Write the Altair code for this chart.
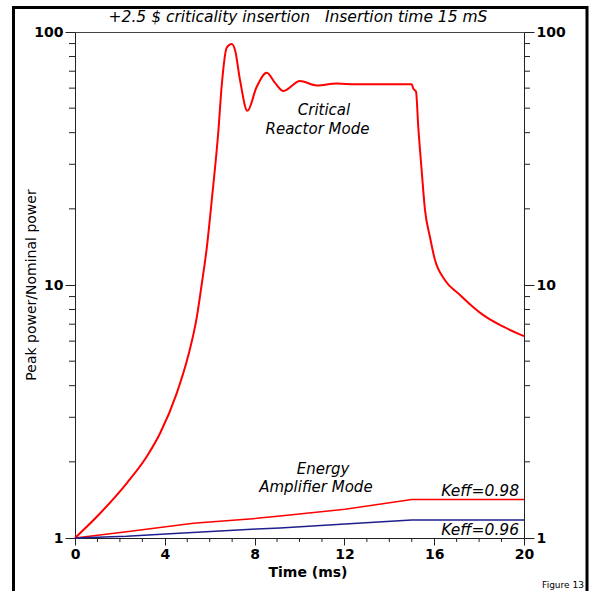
import altair as alt
import pandas as pd

# Critical reactor mode: power excursion after a +2.5 $ insertion
crit_t = [0, 1.11, 2.3, 3.19, 3.79, 4.53, 5.03, 5.43, 5.64, 5.86, 6.1, 6.39, 6.53,
          6.76, 6.98, 7.13, 7.35, 7.68, 8.09, 8.54, 8.91, 9.28, 10.02, 10.77, 11.66,
          12.5, 14.0, 15.0, 15.07, 15.19, 15.29, 15.44, 15.59, 15.81, 16.03, 16.48,
          17.15, 17.59, 18.19, 19.08, 20]
crit_p = [1, 1.25, 1.645, 2.095, 2.595, 3.73, 5.2, 7.5, 10.0, 13.8, 22, 41, 60.6,
          86.7, 89.6, 84.7, 64.6, 48.8, 60.6, 69, 62.9, 58.5, 64, 61.5, 62.6,
          62.1, 62.1, 62.1, 59.7, 58.1, 42.2, 28.5, 19.8, 15.5, 12.6, 10.45,
          9.13, 8.4, 7.6, 6.84, 6.28]

# Energy amplifier mode, Keff = 0.98
k98_t = [0, 2.3, 5.27, 8.09, 9.13, 12.03, 15.0, 20]
k98_p = [1, 1.059, 1.143, 1.196, 1.222, 1.30, 1.42, 1.42]

# Energy amplifier mode, Keff = 0.96
k96_t = [0, 2.3, 4.23, 8.09, 9.13, 12.03, 15.0, 20]
k96_p = [1, 1.015, 1.04, 1.085, 1.095, 1.136, 1.178, 1.178]

# Annotations inside the plot (text, time, power)
note_text = ["Critical", "Reactor Mode", "Energy", "Amplifier Mode"]
note_t = [11.09, 10.80, 11.05, 10.73]
note_p = [47.0, 39.7, 1.79, 1.524]

keff_text = ["Keff=0.98", "Keff=0.96"]
keff_t = [19.78, 19.78]
keff_p = [1.466, 1.028]

y_major = [1, 10, 100]
y_minor = [2, 3, 4, 5, 6, 7, 8, 9, 20, 30, 40, 50, 60, 70, 80, 90]
x_major = [0, 4, 8, 12, 16, 20]
x_minor = [t for t in range(0, 21) if t % 4]

FONT = "DejaVu Sans"
AXIS_COLOR = "#222222"
TITLE = "+2.5 $ criticality insertion\u00a0\u00a0\u00a0Insertion time 15 mS"

crit = pd.DataFrame({"t": crit_t, "p": crit_p})
k98 = pd.DataFrame({"t": k98_t, "p": k98_p})
k96 = pd.DataFrame({"t": k96_t, "p": k96_p})
notes = pd.DataFrame({"label": note_text, "t": note_t, "p": note_p})
keffs = pd.DataFrame({"label": keff_text, "t": keff_t, "p": keff_p})
ym = pd.DataFrame({"v": y_minor})
xm = pd.DataFrame({"v": x_minor})

x_scale = alt.Scale(domain=[0, 20], nice=False, zero=False)
y_scale = alt.Scale(type="log", domain=[1, 100], nice=False)

label_style = dict(
    labelFont=FONT, labelFontSize=14, labelFontWeight="bold", labelColor="black",
    labelFlush=False, labelOverlap=False, domainColor=AXIS_COLOR, tickColor=AXIS_COLOR,
    grid=False, title=None,
)


def major_axis(orient, values, size):
    return alt.Axis(orient=orient, values=values, tickSize=size, format="d",
                    labelPadding=2, **label_style)


X = alt.X("t:Q", scale=x_scale, axis=None)
Y = alt.Y("p:Q", scale=y_scale, axis=None)

crit_line = alt.Chart(crit).mark_line(
    color="#ff0000", strokeWidth=2, interpolate="monotone"
).encode(
    x=alt.X("t:Q", scale=x_scale, axis=major_axis("bottom", x_major, 7)),
    y=alt.Y("p:Q", scale=y_scale, axis=major_axis("left", y_major, 10)),
)

# Right-hand copy of the power axis (invisible line, axis only)
right_axis = alt.Chart(k96).mark_line(opacity=0).encode(
    x=X, y=alt.Y("p:Q", scale=y_scale, axis=major_axis("right", y_major, 10))
)

# Minor tick marks on both power axes and on the time axis
minor_y_left = alt.Chart(ym).mark_rule(color=AXIS_COLOR, strokeWidth=1).encode(
    y=alt.Y("v:Q", scale=y_scale, axis=None), x=alt.value(-6), x2=alt.value(0)
)
minor_y_right = alt.Chart(ym).mark_rule(color=AXIS_COLOR, strokeWidth=1).encode(
    y=alt.Y("v:Q", scale=y_scale, axis=None), x=alt.value(449), x2=alt.value(455)
)
minor_x = alt.Chart(xm).mark_rule(color=AXIS_COLOR, strokeWidth=1).encode(
    x=alt.X("v:Q", scale=x_scale, axis=None), y=alt.value(506), y2=alt.value(510)
)

k98_line = alt.Chart(k98).mark_line(color="#ff0000", strokeWidth=1.5).encode(x=X, y=Y)
k96_line = alt.Chart(k96).mark_line(color="#1f1f8f", strokeWidth=1.5).encode(x=X, y=Y)

note_marks = alt.Chart(notes).mark_text(
    font=FONT, fontSize=15, fontStyle="italic", align="center",
    baseline="alphabetic", color="black",
).encode(x=X, y=Y, text="label:N")

keff_marks = alt.Chart(keffs).mark_text(
    font=FONT, fontSize=15.5, fontStyle="italic", align="right",
    baseline="alphabetic", color="black",
).encode(x=X, y=Y, text="label:N")

title_mark = alt.Chart(pd.DataFrame({"s": [TITLE]})).mark_text(
    font=FONT, fontSize=15.5, fontStyle="italic", align="center", baseline="alphabetic", color="black"
).encode(x=alt.value(223), y=alt.value(-10), text="s:N")

ytitle_mark = alt.Chart(pd.DataFrame({"s": ["Peak power/Nominal power"]})).mark_text(
    font=FONT, fontSize=14, angle=270, align="center", baseline="middle", color="black"
).encode(x=alt.value(-43), y=alt.value(253), text="s:N")

xtitle_mark = alt.Chart(pd.DataFrame({"s": ["Time (ms)"]})).mark_text(
    font=FONT, fontSize=14, fontWeight="bold", align="center", baseline="alphabetic", color="black"
).encode(x=alt.value(233), y=alt.value(545), text="s:N")

fig_mark = alt.Chart(pd.DataFrame({"s": ["Figure 13"]})).mark_text(
    font=FONT, fontSize=9, align="center", baseline="alphabetic", color="black"
).encode(x=alt.value(488), y=alt.value(556), text="s:N")

frame = alt.Chart(pd.DataFrame({"s": [0]})).mark_rect(
    fillOpacity=0, stroke="black", strokeWidth=3
).encode(x=alt.value(-61.5), x2=alt.value(512), y=alt.value(-24.5), y2=alt.value(580))

chart = alt.layer(
    crit_line, right_axis, minor_y_left, minor_y_right, minor_x, k98_line, k96_line,
    note_marks, keff_marks, title_mark, ytitle_mark, xtitle_mark, fig_mark, frame,
).resolve_axis(x="independent", y="independent").properties(
    width=449, height=506,
    padding={"left": 75, "top": 32, "right": 65, "bottom": 53},
    autosize=alt.AutoSizeParams(type="none"),
    background="white",
).configure_view(stroke="#444444", strokeWidth=1)

chart.save("out.html", embed_options={"renderer": "svg", "actions": False})
